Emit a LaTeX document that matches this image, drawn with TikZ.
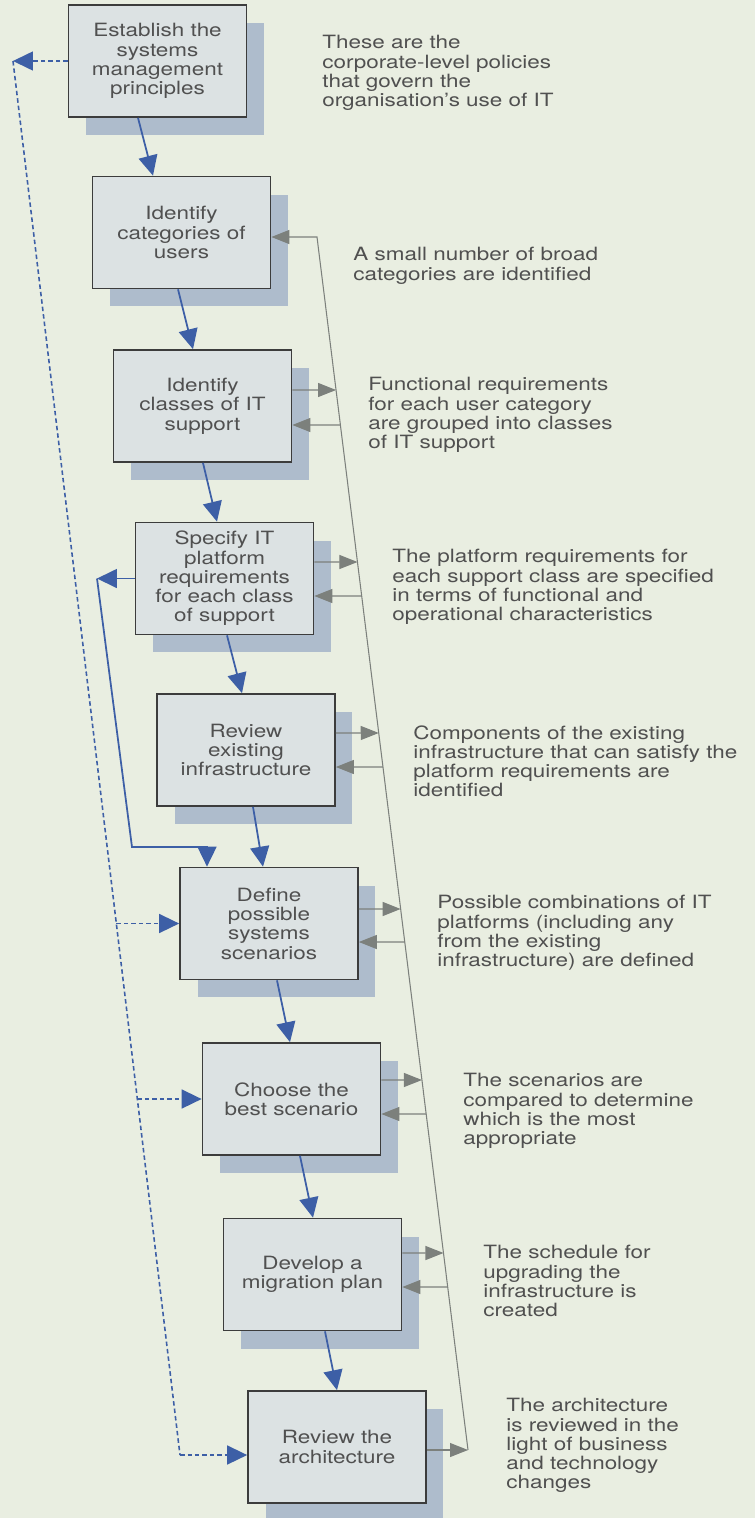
\documentclass[tikz,border=0pt]{standalone}
\usepackage{fontspec}
\setmainfont{TeX Gyre Heros}[FakeStretch=1.23]
\usetikzlibrary{arrows.meta,calc,shadows}
\definecolor{fond}{HTML}{E9EEE1}
\definecolor{boite}{HTML}{DCE2E3}
\definecolor{ombre}{HTML}{AEBCCC}
\definecolor{cadre}{HTML}{3C3C3C}
\definecolor{bleu}{HTML}{3D5FA6}
\definecolor{gris}{HTML}{7C807C}
\definecolor{texte}{HTML}{505050}
\begin{document}
\begin{tikzpicture}[x=0.02cm,y=-0.02cm,font=\fontsize{10.4}{11}\selectfont]
 \tikzstyle{etape}=[rectangle,draw=cadre,fill=boite,line width=1pt,minimum width=3.56cm,minimum height=2.24cm,align=center,text=texte,general shadow={fill=ombre,shadow xshift=0.35cm,shadow yshift=-0.36cm}]
 \tikzstyle{note}=[anchor=north west,align=left,inner sep=0pt,text=texte]
 \tikzstyle{flux}=[-{Triangle[length=0.4cm,width=0.38cm]},draw=bleu,line width=1pt]
 \tikzstyle{pointille}=[flux,line width=0.9pt,dash pattern=on 0.09cm off 0.06cm]
 \tikzstyle{retour}=[-{Triangle[length=0.36cm,width=0.28cm]},draw=gris,line width=0.6pt]
 \path[use as bounding box,fill=fond] (0,0) rectangle (755,1518);
 % les etapes
 \node[etape] (E1) at (157.5,61) {Establish the\\systems\\management\\principles};
 \node[etape] (E2) at (181.5,232.5) {Identify\\categories of\\users};
 \node[etape] (E3) at (202.5,406) {Identify\\classes of IT\\support};
 \node[etape] (E4) at (224.5,578.5) {Specify IT\\platform\\requirements\\for each class\\of support};
 \node[etape] (E5) at (246,750) {Review\\existing\\infrastructure};
 \node[etape] (E6) at (269,923.5) {Define\\possible\\systems\\scenarios};
 \node[etape] (E7) at (291.5,1099) {Choose the\\best scenario};
 \node[etape] (E8) at (312.5,1274.5) {Develop a\\migration plan};
 \node[etape] (E9) at (337,1447) {Review the\\architecture};
 % les commentaires
 \node[note] (T1) at (322,35) {These are the\\corporate-level policies\\that govern the\\organisation’s use of IT};
 \node[note] (T2) at (353,247) {A small number of broad\\categories are identified};
 \node[note] (T3) at (368,377) {Functional requirements\\for each user category\\are grouped into classes\\of IT support};
 \node[note] (T4) at (392,549) {The platform requirements for\\each support class are specified\\in terms of functional and\\operational characteristics};
 \node[note] (T5) at (413,725) {Components of the existing\\infrastructure that can satisfy the\\platform requirements are\\identified};
 \node[note] (T6) at (437,895) {Possible combinations of IT\\platforms (including any\\from the existing\\infrastructure) are defined};
 \node[note] (T7) at (463,1073) {The scenarios are\\compared to determine\\which is the most\\appropriate};
 \node[note] (T8) at (483,1245) {The schedule for\\upgrading the\\infrastructure is\\created};
 \node[note] (T9) at (506,1398) {The architecture\\is reviewed in the\\light of business\\and technology\\changes};
 % enchainement
 \foreach \a/\b/\da/\db in {E1/E2/-19.5/-28.5,E2/E3/-3.5/-9.5,E3/E4/0.5/-7.5,E4/E5/2.5/-4,E5/E6/7/-6,E6/E7/8/-1.5,E7/E8/8.5/0.5,E8/E9/12.5/0}
  \draw[flux] ($(\a.south)+(\da,0)$) -- ($(\b.north)+(\db,0)$);
 % principes
 \coordinate (P1) at (13,61);
 \coordinate (P2) at (180,1455);
 \coordinate (P6) at (116.3,923.5);
 \coordinate (P7) at (137.4,1099);
 \draw[pointille] (E1.west) -- (P1);
 \draw[pointille,-] (P1) -- (P2);
 \draw[pointille] (P2) -- (P2 -| E9.west);
 \draw[pointille] (P6) -- (E6.west);
 \draw[pointille] (P7) -- (E7.west);
 % plates-formes
 \coordinate (S1) at (97,578.5);
 \coordinate (S2) at (132,847);
 \draw[flux] (E4.west) -- (S1);
 \draw[flux] (S1) -- (S2) -| ($(E6.north)+(-62,0)$);
 % revue
 \coordinate (G1) at (317,237);
 \coordinate (G2) at (468,1450);
 \draw[retour] (E9.east |- G2) -- (G2);
 \draw[retour] (G2) -- (G1) -- (G1 -| E2.east);
 \foreach \e/\ya/\yb in {E3/390/425,E4/562/596,E5/733/767,E6/909/942,E7/1080/1114,E8/1253/1287} {
  \draw[retour] (\e.east |- 0,\ya) -- ($(G1)!{(\ya-237)/1213}!(G2)$);
  \draw[retour] ($(G1)!{(\yb-237)/1213}!(G2)$) -- (\e.east |- 0,\yb);
 }
\end{tikzpicture}
\end{document}
